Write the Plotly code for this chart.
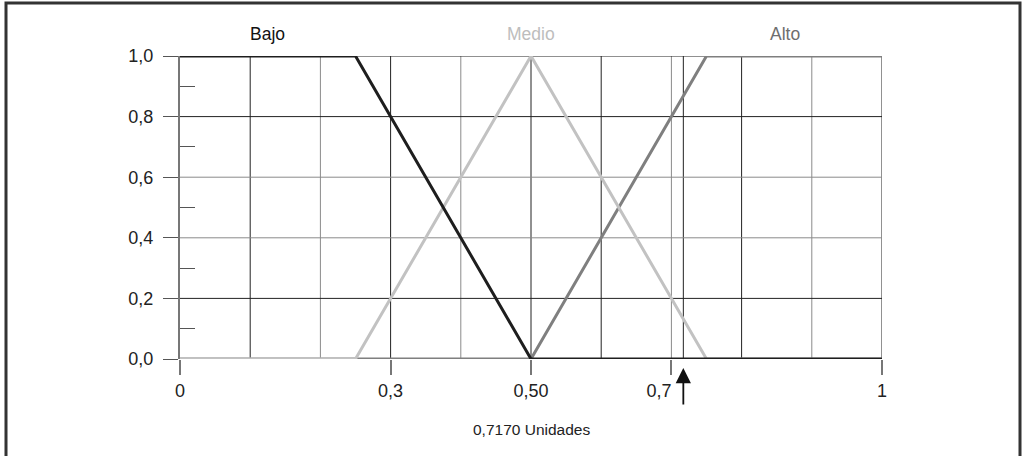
import plotly.graph_objects as go

# ---- data ----
x_bajo = [0, 0.25, 0.5, 1]
y_bajo = [1, 1, 0, 0]
x_medio = [0, 0.25, 0.5, 0.75, 1]
y_medio = [0, 0, 1, 0, 0]
x_alto = [0, 0.5, 0.75, 1]
y_alto = [0, 0, 1, 1]
set_names = ["Bajo", "Medio", "Alto"]
set_label_x = [0.125, 0.5, 0.862]
x_tickvals = [0, 0.3, 0.5, 0.7, 1]
x_ticktext = ["0", "0,3", "0,50", "0,7" + "\u00a0" * 5, "1"]
y_tickvals = [0, 0.2, 0.4, 0.6, 0.8, 1.0]
y_ticktext = ["0,0", "0,2", "0,4", "0,6", "0,8", "1,0"]
y_minor = [0.1, 0.3, 0.5, 0.7, 0.9]
v_grid = [0.1, 0.2, 0.3, 0.4, 0.5, 0.6, 0.7, 0.717, 0.8, 0.9, 1.0]
h_grid = [0.2, 0.4, 0.6, 0.8, 1.0]
crisp_value = 0.717
crisp_label = "0,7170 Unidades"

DARK = "#222222"
GRAY = "#8a8a8a"
v_grid_colors = [DARK, GRAY, DARK, GRAY, DARK, DARK, GRAY, DARK, DARK, GRAY, DARK]
h_grid_colors = [DARK, GRAY, GRAY, DARK, DARK]

W, H = 1026, 456
L, R, T, B = 180, 882, 56, 359
pw, ph = R - L, B - T

fig = go.Figure()

fig.add_trace(go.Scatter(x=x_alto, y=y_alto, mode="lines", name="Alto",
                         line=dict(color="#7f7f7f", width=3), cliponaxis=False))
fig.add_trace(go.Scatter(x=x_medio, y=y_medio, mode="lines", name="Medio",
                         line=dict(color="#c2c2c2", width=3), cliponaxis=False))
fig.add_trace(go.Scatter(x=x_bajo, y=y_bajo, mode="lines", name="Bajo",
                         line=dict(color="#1e1e1e", width=3), cliponaxis=False))

shapes = []
for v, c in zip(v_grid, v_grid_colors):
    shapes.append(dict(type="line", xref="x", yref="y", x0=v, x1=v, y0=0, y1=1,
                       line=dict(color=c, width=1), layer="below"))
for v, c in zip(h_grid, h_grid_colors):
    shapes.append(dict(type="line", xref="x", yref="y", x0=0, x1=1, y0=v, y1=v,
                       line=dict(color=c, width=1), layer="below"))
# outer frame
shapes.append(dict(type="rect", xref="paper", yref="paper",
                   x0=(6 - L) / pw, x1=(1020 - L) / pw,
                   y0=(B - 480) / ph, y1=(B - 3) / ph,
                   line=dict(color="#333333", width=3)))
fig.update_layout(shapes=shapes)

label_colors = ["#111111", "#bdbdbd", "#6e6e6e"]
for name, xv, col in zip(set_names, set_label_x, label_colors):
    fig.add_annotation(x=xv, y=(B - 34) / ph, xref="x", yref="paper", text=name,
                       showarrow=False, font=dict(size=17.5, color=col),
                       xanchor="center", yanchor="middle")

# crisp output arrow
fig.add_annotation(x=crisp_value, y=-(368 - B) / ph, xref="x", yref="paper", text="",
                   showarrow=True, arrowhead=2, arrowsize=1.7, arrowwidth=1.8,
                   arrowcolor="#111111", ax=0, ay=38)
fig.add_annotation(x=0.5, y=-(429 - B) / ph, xref="x", yref="paper", text=crisp_label,
                   showarrow=False, font=dict(size=15.5, color="#222222"),
                   xanchor="center", yanchor="middle")

fig.update_xaxes(range=[0, 1], tickvals=x_tickvals, ticktext=x_ticktext,
                 ticks="outside", ticklen=15, tickcolor="#777777", tickwidth=1.5,
                 showgrid=False, zeroline=False, showline=False,
                 tickfont=dict(size=18, color="#222222"), fixedrange=True)
fig.update_yaxes(range=[0, 1], tickvals=y_tickvals, ticktext=y_ticktext,
                 ticks="outside", ticklen=15, tickcolor="#555555", tickwidth=1,
                 minor=dict(tickvals=y_minor, ticks="inside", ticklen=15,
                            tickcolor="#555555", tickwidth=1, showgrid=False),
                 showgrid=False, zeroline=False, showline=True,
                 linecolor="#777777", linewidth=2, ticklabelstandoff=6,
                 tickfont=dict(size=18, color="#222222"), fixedrange=True)

fig.update_layout(width=W, height=H,
                  margin=dict(l=L, r=W - R, t=T, b=H - B, pad=0),
                  paper_bgcolor="white", plot_bgcolor="white",
                  showlegend=False,
                  font=dict(family="Liberation Sans, Arial, sans-serif"))

fig.write_html("out.html", config={"displayModeBar": False},
               post_script="document.body.style.margin='0';")
